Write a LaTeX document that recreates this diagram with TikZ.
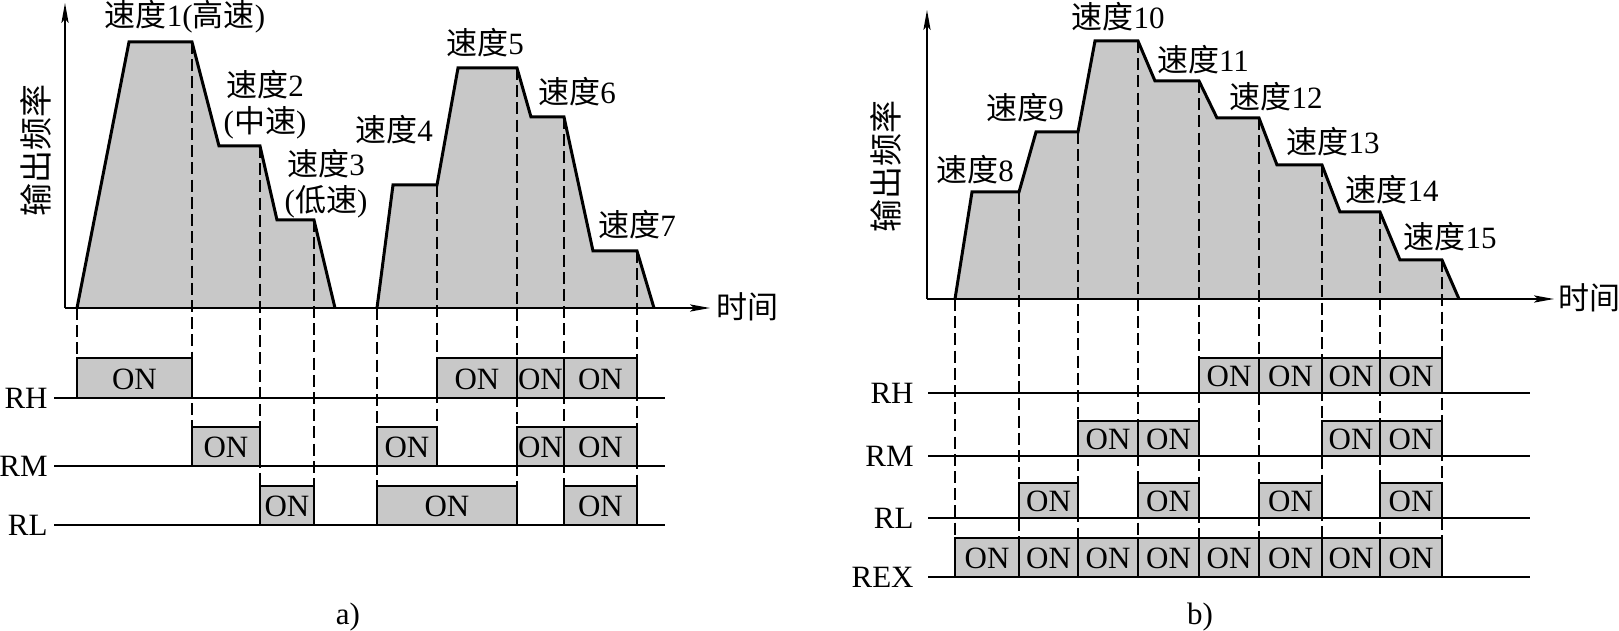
\documentclass[tikz,border=0pt]{standalone}
\usepackage{fontspec}
\setmainfont{Liberation Serif}
\newfontfamily\cjk{Noto Sans CJK SC}
\usetikzlibrary{arrows.meta}
\definecolor{fillgray}{RGB}{200,200,200}
\newcommand\zhs[1]{{\cjk #1}}
\begin{document}
\begin{tikzpicture}[x=0.5pt,y=-0.5pt,
  lbl/.style={font=\fontsize{15.5}{18}\selectfont, inner sep=0pt, align=center},
  ytxt/.style={lbl, font=\fontsize{16.5}{18}\selectfont, rotate=90},
  outline/.style={line width=1.5pt, line join=miter},
  axisline/.style={line width=0.8pt, -{Stealth[length=10pt,width=3.6pt,inset=2pt]}},
  dashline/.style={line width=0.7pt, dash pattern=on 6pt off 2.6pt},
  baseline/.style={line width=0.8pt},
  boxedge/.style={line width=1.3pt, line join=miter},
  ontxt/.style={font=\fontsize{15.5}{18}\selectfont, inner sep=0pt}]
\useasboundingbox (0,0) rectangle (1619,631);

% ---------------- panel a ----------------
\fill[fillgray] (77,308) -- (129,42) -- (192,42) -- (219,146) -- (260,146) -- (277,220) -- (314,220) -- (335,308) -- cycle;
\fill[fillgray] (377,308) -- (393,185) -- (437,185) -- (458,68) -- (517,68) -- (531,117) -- (564,117) -- (593,251) -- (637,251) -- (654,308) -- cycle;
\foreach \x/\t/\b in {77/308/398, 192/42/466, 260/146/525, 314/220/525, 377/308/525, 437/185/466, 517/68/525, 564/117/525, 637/251/525}
  \draw[dashline] (\x,\t) -- (\x,\b);
\draw[outline] (77,308) -- (129,42) -- (192,42) -- (219,146) -- (260,146) -- (277,220) -- (314,220) -- (335,308);
\draw[outline] (377,308) -- (393,185) -- (437,185) -- (458,68) -- (517,68) -- (531,117) -- (564,117) -- (593,251) -- (637,251) -- (654,308);
\coordinate (ao) at (65,308);
\coordinate (ay) at (65,3);
\coordinate (ax) at (710,308);
\draw[axisline] (ao) -- (ay);
\draw[axisline] (ao) -- (ax);

\node[lbl] (s1) at (185,17) {\zhs{速度}1(\zhs{高速})};
\node[lbl] (s2) at (265,105) {\zhs{速度}2\\(\zhs{中速})};
\node[lbl] (s3) at (326,184) {\zhs{速度}3\\(\zhs{低速})};
\node[lbl] (s4) at (394,130) {\zhs{速度}4};
\node[lbl] (s5) at (485,43) {\zhs{速度}5};
\node[lbl] (s6) at (577,92) {\zhs{速度}6};
\node[lbl] (s7) at (637,225) {\zhs{速度}7};
\node[ytxt] (ya) at (36,151) {\zhs{输出频率}};
\node[lbl, anchor=west] (ta) at (716,307) {\zhs{时间}};

% timing rows a
\foreach \xa/\xb/\t/\bb in {77/192/358/398, 437/517/358/398, 517/564/358/398, 564/637/358/398,
                            192/260/427/466, 377/437/427/466, 517/564/427/466, 564/637/427/466,
                            260/314/486/525, 377/517/486/525, 564/637/486/525} {
  \fill[fillgray] (\xa,\t) rectangle (\xb,\bb);
  \draw[boxedge] (\xa,\bb) -- (\xa,\t) -- (\xb,\t) -- (\xb,\bb);
  \node[ontxt] at ({(\xa+\xb)/2},{(\t+\bb)/2+1}) {ON};
}
\foreach \y/\name in {398/RH, 466/RM, 525/RL} {
  \draw[baseline] (54,\y) -- (665,\y);
  \node[ontxt, anchor=east] at (48,\y) {\name};
}
\node[ontxt] (capa) at (348,617) {a)};

% ---------------- panel b ----------------
\fill[fillgray] (955,299) -- (972,192) -- (1019,192) -- (1036,132) -- (1078,132) -- (1095,41) -- (1138,41) -- (1155,81) -- (1199,81) -- (1217,118) -- (1259,118) -- (1277,165) -- (1322,165) -- (1340,212) -- (1380,212) -- (1400,260) -- (1442,260) -- (1459,299) -- cycle;
\foreach \x/\t in {955/299, 1019/192, 1078/132, 1138/41, 1199/81, 1259/118, 1322/165, 1380/212, 1442/260}
  \draw[dashline] (\x,\t) -- (\x,577);
\draw[outline] (955,299) -- (972,192) -- (1019,192) -- (1036,132) -- (1078,132) -- (1095,41) -- (1138,41) -- (1155,81) -- (1199,81) -- (1217,118) -- (1259,118) -- (1277,165) -- (1322,165) -- (1340,212) -- (1380,212) -- (1400,260) -- (1442,260) -- (1459,299);
\coordinate (bo) at (927,299);
\coordinate (by) at (927,10);
\coordinate (bx) at (1554,299);
\draw[axisline] (bo) -- (by);
\draw[axisline] (bo) -- (bx);

\node[lbl] (s8) at (975,170) {\zhs{速度}8};
\node[lbl] (s9) at (1025,108) {\zhs{速度}9};
\node[lbl] (s10) at (1118,17) {\zhs{速度}10};
\node[lbl] (s11) at (1203,60) {\zhs{速度}11};
\node[lbl] (s12) at (1276,97) {\zhs{速度}12};
\node[lbl] (s13) at (1333,142) {\zhs{速度}13};
\node[lbl] (s14) at (1392,190) {\zhs{速度}14};
\node[lbl] (s15) at (1450,237) {\zhs{速度}15};
\node[ytxt] (yb) at (886,167) {\zhs{输出频率}};
\node[lbl, anchor=west] (tb) at (1558,298) {\zhs{时间}};

\foreach \xa/\xb/\t/\bb in {1199/1259/358/393, 1259/1322/358/393, 1322/1380/358/393, 1380/1442/358/393,
                            1078/1138/421/456, 1138/1199/421/456, 1322/1380/421/456, 1380/1442/421/456,
                            1019/1078/483/518, 1138/1199/483/518, 1259/1322/483/518, 1380/1442/483/518,
                            955/1019/538/577, 1019/1078/538/577, 1078/1138/538/577, 1138/1199/538/577,
                            1199/1259/538/577, 1259/1322/538/577, 1322/1380/538/577, 1380/1442/538/577} {
  \fill[fillgray] (\xa,\t) rectangle (\xb,\bb);
  \draw[boxedge] (\xa,\bb) -- (\xa,\t) -- (\xb,\t) -- (\xb,\bb);
  \node[ontxt] at ({(\xa+\xb)/2},{(\t+\bb)/2+1}) {ON};
}
\foreach \y/\name in {393/RH, 456/RM, 518/RL, 577/REX} {
  \draw[baseline] (928,\y) -- (1530,\y);
  \node[ontxt, anchor=east] at (914,\y) {\name};
}
\node[ontxt] (capb) at (1200,617) {b)};
\end{tikzpicture}
\end{document}
